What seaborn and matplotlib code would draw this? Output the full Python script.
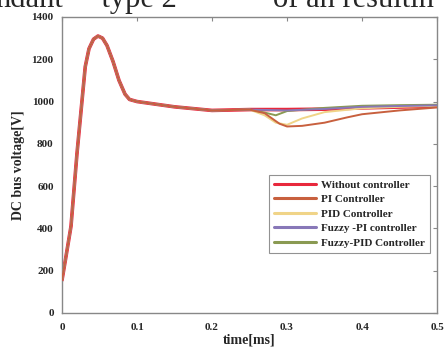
import numpy as np
import pandas as pd
import seaborn as sns
import matplotlib.pyplot as plt

# shared transient up to the disturbance at t = 0.25 ms
t_common = [0, 0.005, 0.012, 0.02, 0.031, 0.036, 0.042, 0.048, 0.054, 0.06,
            0.068, 0.076, 0.084, 0.09, 0.1, 0.12, 0.15, 0.2, 0.25]
v_common = [155, 260, 410, 755, 1165, 1250, 1295, 1310, 1300, 1265,
            1190, 1100, 1035, 1010, 1000, 990, 975, 958, 962]

# responses after the disturbance
t_none = [0.3, 0.35, 0.4, 0.45, 0.5]
v_none = [962, 964, 970, 974, 978]
t_pi = [0.27, 0.29, 0.3, 0.32, 0.35, 0.38, 0.4, 0.45, 0.5]
v_pi = [945, 895, 882, 885, 900, 925, 940, 958, 972]
t_pid = [0.27, 0.285, 0.3, 0.32, 0.35, 0.4, 0.45, 0.5]
v_pid = [935, 900, 890, 920, 950, 968, 975, 980]
t_fpi = [0.3, 0.35, 0.4, 0.45, 0.5]
v_fpi = [958, 965, 975, 979, 982]
t_fpid = [0.27, 0.285, 0.3, 0.35, 0.4, 0.45, 0.5]
v_fpid = [948, 935, 955, 970, 980, 983, 985]

labels = ["Without controller", "PI Controller", "PID Controller",
          "Fuzzy -PI controller", "Fuzzy-PID Controller"]
tails = [(t_none, v_none), (t_pi, v_pi), (t_pid, v_pid),
         (t_fpi, v_fpi), (t_fpid, v_fpid)]
colors = ["#e8283c", "#c8603e", "#f0d488", "#8878b8", "#8a9a52"]
widths = [2.6, 1.4, 1.4, 1.4, 1.4]
zorders = [2, 7, 3, 5, 4]

rows = []
for lab, (tt, vv) in zip(labels, tails):
    for a, b in zip(t_common + tt, v_common + vv):
        rows.append((lab, a, b))
df = pd.DataFrame(rows, columns=["series", "time", "voltage"])

sns.set_style("white")
plt.rcParams['font.family'] = ['Liberation Serif', 'DejaVu Serif']
plt.rcParams['font.weight'] = 'bold'

fig = plt.figure(figsize=(4.46, 3.54), dpi=100)
ax = fig.add_axes([0.139, 0.116, 0.841, 0.836])

for lab, c, w, z in zip(labels, colors, widths, zorders):
    sns.lineplot(data=df[df.series == lab], x="time", y="voltage", ax=ax,
                 color=c, linewidth=w, label=lab, estimator=None, sort=False,
                 zorder=z)

ax.set_xlim(0, 0.5)
ax.set_ylim(0, 1400)
ax.set_xticks([0, 0.1, 0.2, 0.3, 0.4, 0.5])
ax.set_xticklabels(["0", "0.1", "0.2", "0.3", "0.4", "0.5"])
ax.set_yticks(range(0, 1401, 200))
ax.tick_params(direction='in', length=3, labelsize=8, top=True, right=True,
               color='#888888')
ax.tick_params(axis='x', pad=7)
ax.tick_params(axis='y', pad=6)
for s in ax.spines.values():
    s.set_color('#888888')
    s.set_linewidth(1.0)
ax.set_xlabel("time[ms]", fontsize=10, fontweight='bold', labelpad=1)
ax.set_ylabel("DC bus voltage[V]", fontsize=10, fontweight='bold', labelpad=5)

leg = ax.legend(loc='upper left', bbox_to_anchor=(0.552, 0.466), fontsize=8,
                handlelength=3.8, handletextpad=0.4, labelspacing=0.42,
                borderpad=0.45, borderaxespad=0, fancybox=False, frameon=True)
leg.get_frame().set_edgecolor('#777777')
leg.get_frame().set_linewidth(0.8)
for h in leg.get_lines():
    h.set_linewidth(2.2)

# clipped fragment of the surrounding page text
fig.text(-0.01, 0.98, 'ndant', fontsize=22, fontweight='normal',
         va='baseline', ha='left')
fig.text(0.2, 0.98, '"type 2"', fontsize=22, fontweight='normal',
         va='baseline', ha='left')
fig.text(0.612, 0.98, 'of an resultin', fontsize=22, fontweight='normal',
         va='baseline', ha='left')

fig.savefig("out.png", dpi=100)
